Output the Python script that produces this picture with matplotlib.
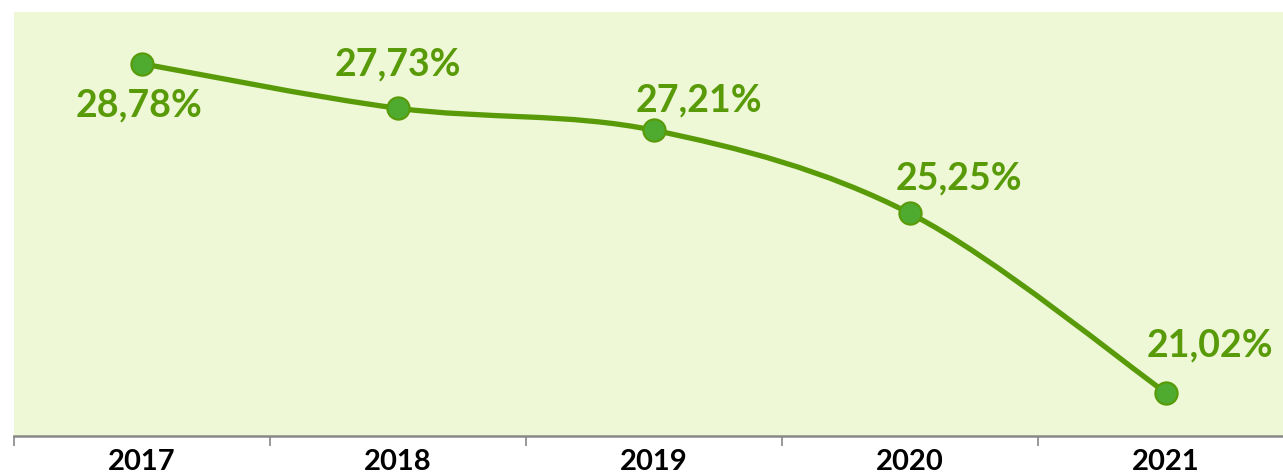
import matplotlib
matplotlib.use('Agg')
from matplotlib import pyplot as plt
from matplotlib.path import Path
from matplotlib.patches import PathPatch

years = ['2017', '2018', '2019', '2020', '2021']
rates = [28.78, 27.73, 27.21, 25.25, 21.02]
labels = ['28,78%', '27,73%', '27,21%', '25,25%', '21,02%']

# label offsets in pixels (dx, dy) from each point
label_offsets = [(-3, -42), (0, 44), (45, 30), (49, 35), (44, 47)]

line_color = '#589a08'
marker_color = '#4fab2f'
bg_color = '#eef7d6'

plt.rcParams['font.family'] = ['Lato', 'DejaVu Sans']


def smooth_path(xs, ys):
    # Catmull-Rom style smoothing, like spreadsheet "smoothed line"
    n = len(xs)
    verts = [(xs[0], ys[0])]
    codes = [Path.MOVETO]
    for i in range(n - 1):
        x0, y0 = (xs[i - 1], ys[i - 1]) if i > 0 else (xs[i], ys[i])
        x1, y1 = xs[i], ys[i]
        x2, y2 = xs[i + 1], ys[i + 1]
        x3, y3 = (xs[i + 2], ys[i + 2]) if i + 2 < n else (x2, y2)
        c1 = (x1 + (x2 - x0) / 6, y1 + (y2 - y0) / 6)
        c2 = (x2 - (x3 - x1) / 6, y2 - (y3 - y1) / 6)
        verts += [c1, c2, (x2, y2)]
        codes += [Path.CURVE4] * 3
    return Path(verts, codes)


def main():
    fig = plt.figure(figsize=(12.83, 4.73), dpi=100)
    ax = fig.add_axes([14 / 1283, 37 / 473, 1280 / 1283, 424 / 473])
    ax.set_facecolor(bg_color)

    x = list(range(len(years)))
    ax.add_patch(PathPatch(smooth_path(x, rates), facecolor='none',
                           edgecolor=line_color, lw=3.8, capstyle='round', zorder=2))
    ax.plot(x, rates, 'o', ms=16, color=marker_color, mec=line_color, mew=1.5, zorder=3)

    for xi, yi, lab, (dx, dy) in zip(x, rates, labels, label_offsets):
        ax.annotate(lab, (xi, yi), xytext=(dx, dy), textcoords='offset pixels',
                    ha='center', va='center', fontsize=27, fontweight='bold',
                    color=line_color)

    ax.set_xlim(-0.5, len(years) - 0.5)
    ax.set_ylim(20, 30)
    ax.set_yticks([])
    ax.set_xticks(x)
    ax.set_xticklabels(years, fontsize=21, fontweight='bold', color='black')
    ax.tick_params(axis='x', which='major', length=0, pad=9)
    ax.set_xticks([i - 0.5 for i in range(len(years) + 1)], minor=True)
    ax.tick_params(axis='x', which='minor', length=7, width=1.2, color='#888888', direction='out')

    for side in ['top', 'right', 'left']:
        ax.spines[side].set_visible(False)
    ax.spines['bottom'].set_color('#888888')
    ax.spines['bottom'].set_linewidth(1.8)

    fig.savefig('out.png', dpi=100, facecolor='white')


if __name__ == '__main__':
    main()
